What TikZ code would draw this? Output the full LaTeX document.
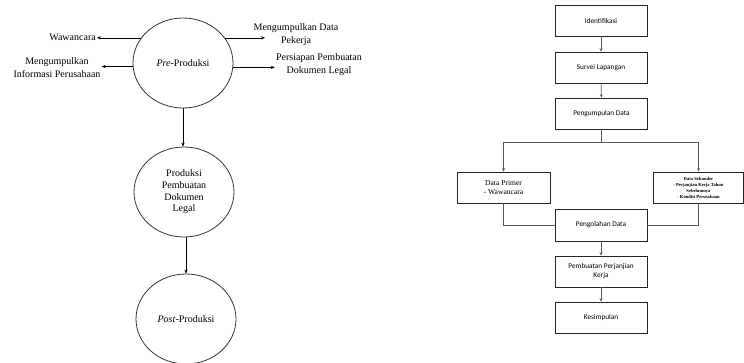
\documentclass[tikz,border=0pt]{standalone}
\usepackage{fontspec}
\setmainfont{Liberation Serif}
\newfontfamily\calib{Carlito}
\usetikzlibrary{shapes.geometric,arrows.meta}
\begin{document}
\begin{tikzpicture}[x=1pt,y=-1pt,
  circ/.style={ellipse,draw=black!80,line width=0.8pt,minimum width=100pt,minimum height=90pt,inner sep=0pt,align=center,font=\fontsize{10}{11.7}\selectfont},
  lbl/.style={align=center,inner sep=1pt,font=\fontsize{10}{12.5}\selectfont},
  arr/.style={line width=0.6pt,-{Stealth[length=4pt,width=3.2pt]}},
  box/.style={draw=black!85,line width=0.7pt,minimum width=92pt,minimum height=31pt,inner sep=1pt,align=center,font=\calib\fontsize{7.3}{9}\selectfont},
  con/.style={draw=black!65,line width=0.6pt},
  carr/.style={con,-{Stealth[length=3.5pt,width=3pt]}}]
\useasboundingbox (0,0) rectangle (744,362);
% left diagram
\node[circ] (pre) at (183,63) {\textit{Pre}-Produksi};
\node[circ] (prod) at (184,192) {Produksi\\Pembuatan\\Dokumen\\Legal};
\node[circ] (post) at (186,319) {\textit{Post}-Produksi};
\node[lbl,anchor=east] (waw) at (97,37.5) {Wawancara};
\node[lbl] (mip) at (57,67.5) {Mengumpulkan\\Informasi Perusahaan};
\node[lbl] (mdp) at (296,34.5) {Mengumpulkan Data\\Pekerja};
\node[lbl] (ppd) at (319,64.5) {Persiapan Pembuatan\\Dokumen Legal};
\coordinate (t1) at (265,38);
\draw[arr] (pre.149) -- (pre.149 -| waw.east);
\draw[arr] (pre.184) -- (pre.184 -| mip.east);
\draw[arr] (pre.31) -- (pre.31 -| t1);
\draw[arr] (pre.355) -- (pre.355 -| ppd.west);
\draw[arr] (pre.south) -- (pre.south |- prod.north);
\draw[arr] (prod.south -| post.north) -- (post.north);
% right diagram
\node[box] (id) at (601,20.5) {Identifikasi};
\node[box] (sv) at (601,67.5) {Survei Lapangan};
\node[box] (pg) at (601.5,113.5) {Pengumpulan Data};
\node[box,minimum width=93pt,font=\fontsize{7.6}{9.5}\selectfont] (dp) at (503.5,187.5) {Data Primer\\- Wawancara};
\node[box,minimum width=90pt,font=\bfseries\fontsize{4.6}{6}\selectfont] (ds) at (698.5,187.5) {Data Sekunder\\- Perjanjian Kerja Tahun\\Sebelumnya\\- Kondisi Perusahaan};
\node[box,minimum height=32pt] (po) at (601,225) {Pengolahan Data};
\node[box] (pb) at (601,271.5) {Pembuatan Perjanjian\\Kerja};
\node[box] (ks) at (601,317.5) {Kesimpulan};
\coordinate (split) at (601.5,142);
\draw[carr] (id) -- (sv);
\draw[carr] (sv) -- (pg);
\draw[con] (pg.south) -- (split);
\draw[carr] (split) -| (dp.north);
\draw[carr] (split) -| (ds.north);
\draw[con] (dp.south) |- (po.west);
\draw[con] (ds.south) |- (po.east);
\draw[carr] (po) -- (pb);
\draw[carr] (pb) -- (ks);
\end{tikzpicture}
\end{document}
